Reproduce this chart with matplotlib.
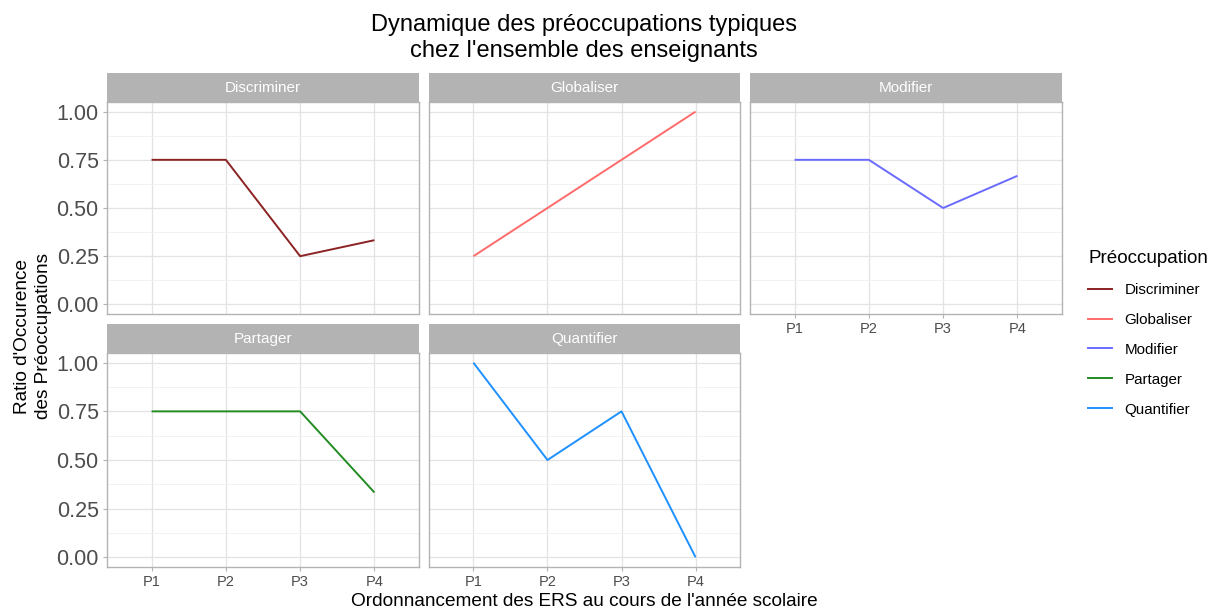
import matplotlib
matplotlib.use("Agg")
import matplotlib.pyplot as plt
from matplotlib.lines import Line2D

plt.rcParams['font.family'] = ['Liberation Sans', 'DejaVu Sans']

periods = ["P1", "P2", "P3", "P4"]
categories = ["Discriminer", "Globaliser", "Modifier", "Partager", "Quantifier"]
discriminer = [0.75, 0.75, 0.25, 0.333]
globaliser = [0.25, 0.50, 0.75, 1.00]
modifier = [0.75, 0.75, 0.50, 0.667]
partager = [0.75, 0.75, 0.75, 0.333]
quantifier = [1.00, 0.50, 0.75, 0.00]
series = [discriminer, globaliser, modifier, partager, quantifier]
colors = ["#8B2323", "#FF6A6A", "#6A6AFF", "#228B22", "#1E90FF"]
yticks = [0.0, 0.25, 0.5, 0.75, 1.0]
ytick_labels = ["0.00", "0.25", "0.50", "0.75", "1.00"]

W, H = 1213, 610
fig = plt.figure(figsize=(W / 100, H / 100), dpi=100)

cols = [(107, 419), (429, 740), (750, 1062)]
rows = [(102, 314), (353, 567)]
strips = [(73, 102), (324, 353)]

def fx(px):
    return px / W

def fy(py):
    return 1 - py / H

x = list(range(1, len(periods) + 1))
for i, (cat, vals, col) in enumerate(zip(categories, series, colors)):
    r, c = divmod(i, 3)
    x0, x1 = cols[c]
    y0, y1 = rows[r]
    ax = fig.add_axes([fx(x0), fy(y1), fx(x1) - fx(x0), fy(y0) - fy(y1)])
    ax.plot(x, vals, color=col, lw=1.4, solid_capstyle='butt', zorder=3)
    ax.set_xlim(0.4, 4.6)
    ax.set_ylim(-0.05, 1.05)
    ax.set_yticks(yticks)
    ax.set_yticks([0.125, 0.375, 0.625, 0.875], minor=True)
    ax.set_xticks(x)
    ax.grid(True, which='major', color='#E3E3E3', lw=0.9, zorder=0)
    ax.grid(True, which='minor', axis='y', color='#F0F0F0', lw=0.6, zorder=0)
    ax.set_axisbelow(True)
    for s in ax.spines.values():
        s.set_color('#B3B3B3')
        s.set_linewidth(1.0)
    ax.tick_params(which='both', length=0)
    ax.tick_params(axis='y', which='major', length=3, color='#B3B3B3', labelsize=15.5, labelcolor='#4D4D4D', pad=3)
    ax.tick_params(axis='x', which='major', length=3, color='#B3B3B3', labelsize=10.5, labelcolor='#4D4D4D', pad=3)
    if c == 0:
        ax.set_yticklabels(ytick_labels)
    else:
        ax.set_yticklabels([])
        ax.tick_params(axis='y', length=0)
    show_x = (r == 1) or (i == 2)
    if show_x:
        ax.set_xticklabels(periods)
    else:
        ax.set_xticklabels([])
        ax.tick_params(axis='x', length=0)
    # strip
    sy0, sy1 = strips[r]
    sax = fig.add_axes([fx(x0), fy(sy1), fx(x1) - fx(x0), fy(sy0) - fy(sy1)])
    sax.set_facecolor('#B3B3B3')
    sax.set_xticks([]); sax.set_yticks([])
    for s in sax.spines.values():
        s.set_visible(False)
    sax.text(0.5, 0.5, cat, color='white', fontsize=11, ha='center', va='center', transform=sax.transAxes)

fig.text(fx(584), fy(38), "Dynamique des préoccupations typiques\nchez l'ensemble des enseignants",
         ha='center', va='center', fontsize=17, linespacing=1.25)
fig.text(fx(584), fy(601), "Ordonnancement des ERS au cours de l'année scolaire",
         ha='center', va='center', fontsize=13.7)
fig.text(fx(33), fy(336), "Ratio d'Occurence\ndes Préoccupations",
         ha='center', va='center', rotation=90, fontsize=13.7, linespacing=1.25)

handles = [Line2D([], [], color=c, lw=1.4) for c in colors]
leg = fig.legend(handles, categories, title="Préoccupation", loc='upper left',
                 bbox_to_anchor=(fx(1082), fy(244)), frameon=False, fontsize=10.9,
                 title_fontsize=13.6, handlelength=1.6, labelspacing=1.05,
                 handletextpad=0.8, borderaxespad=0)
leg._legend_box.align = "left"

fig.savefig("out.png", dpi=100)
